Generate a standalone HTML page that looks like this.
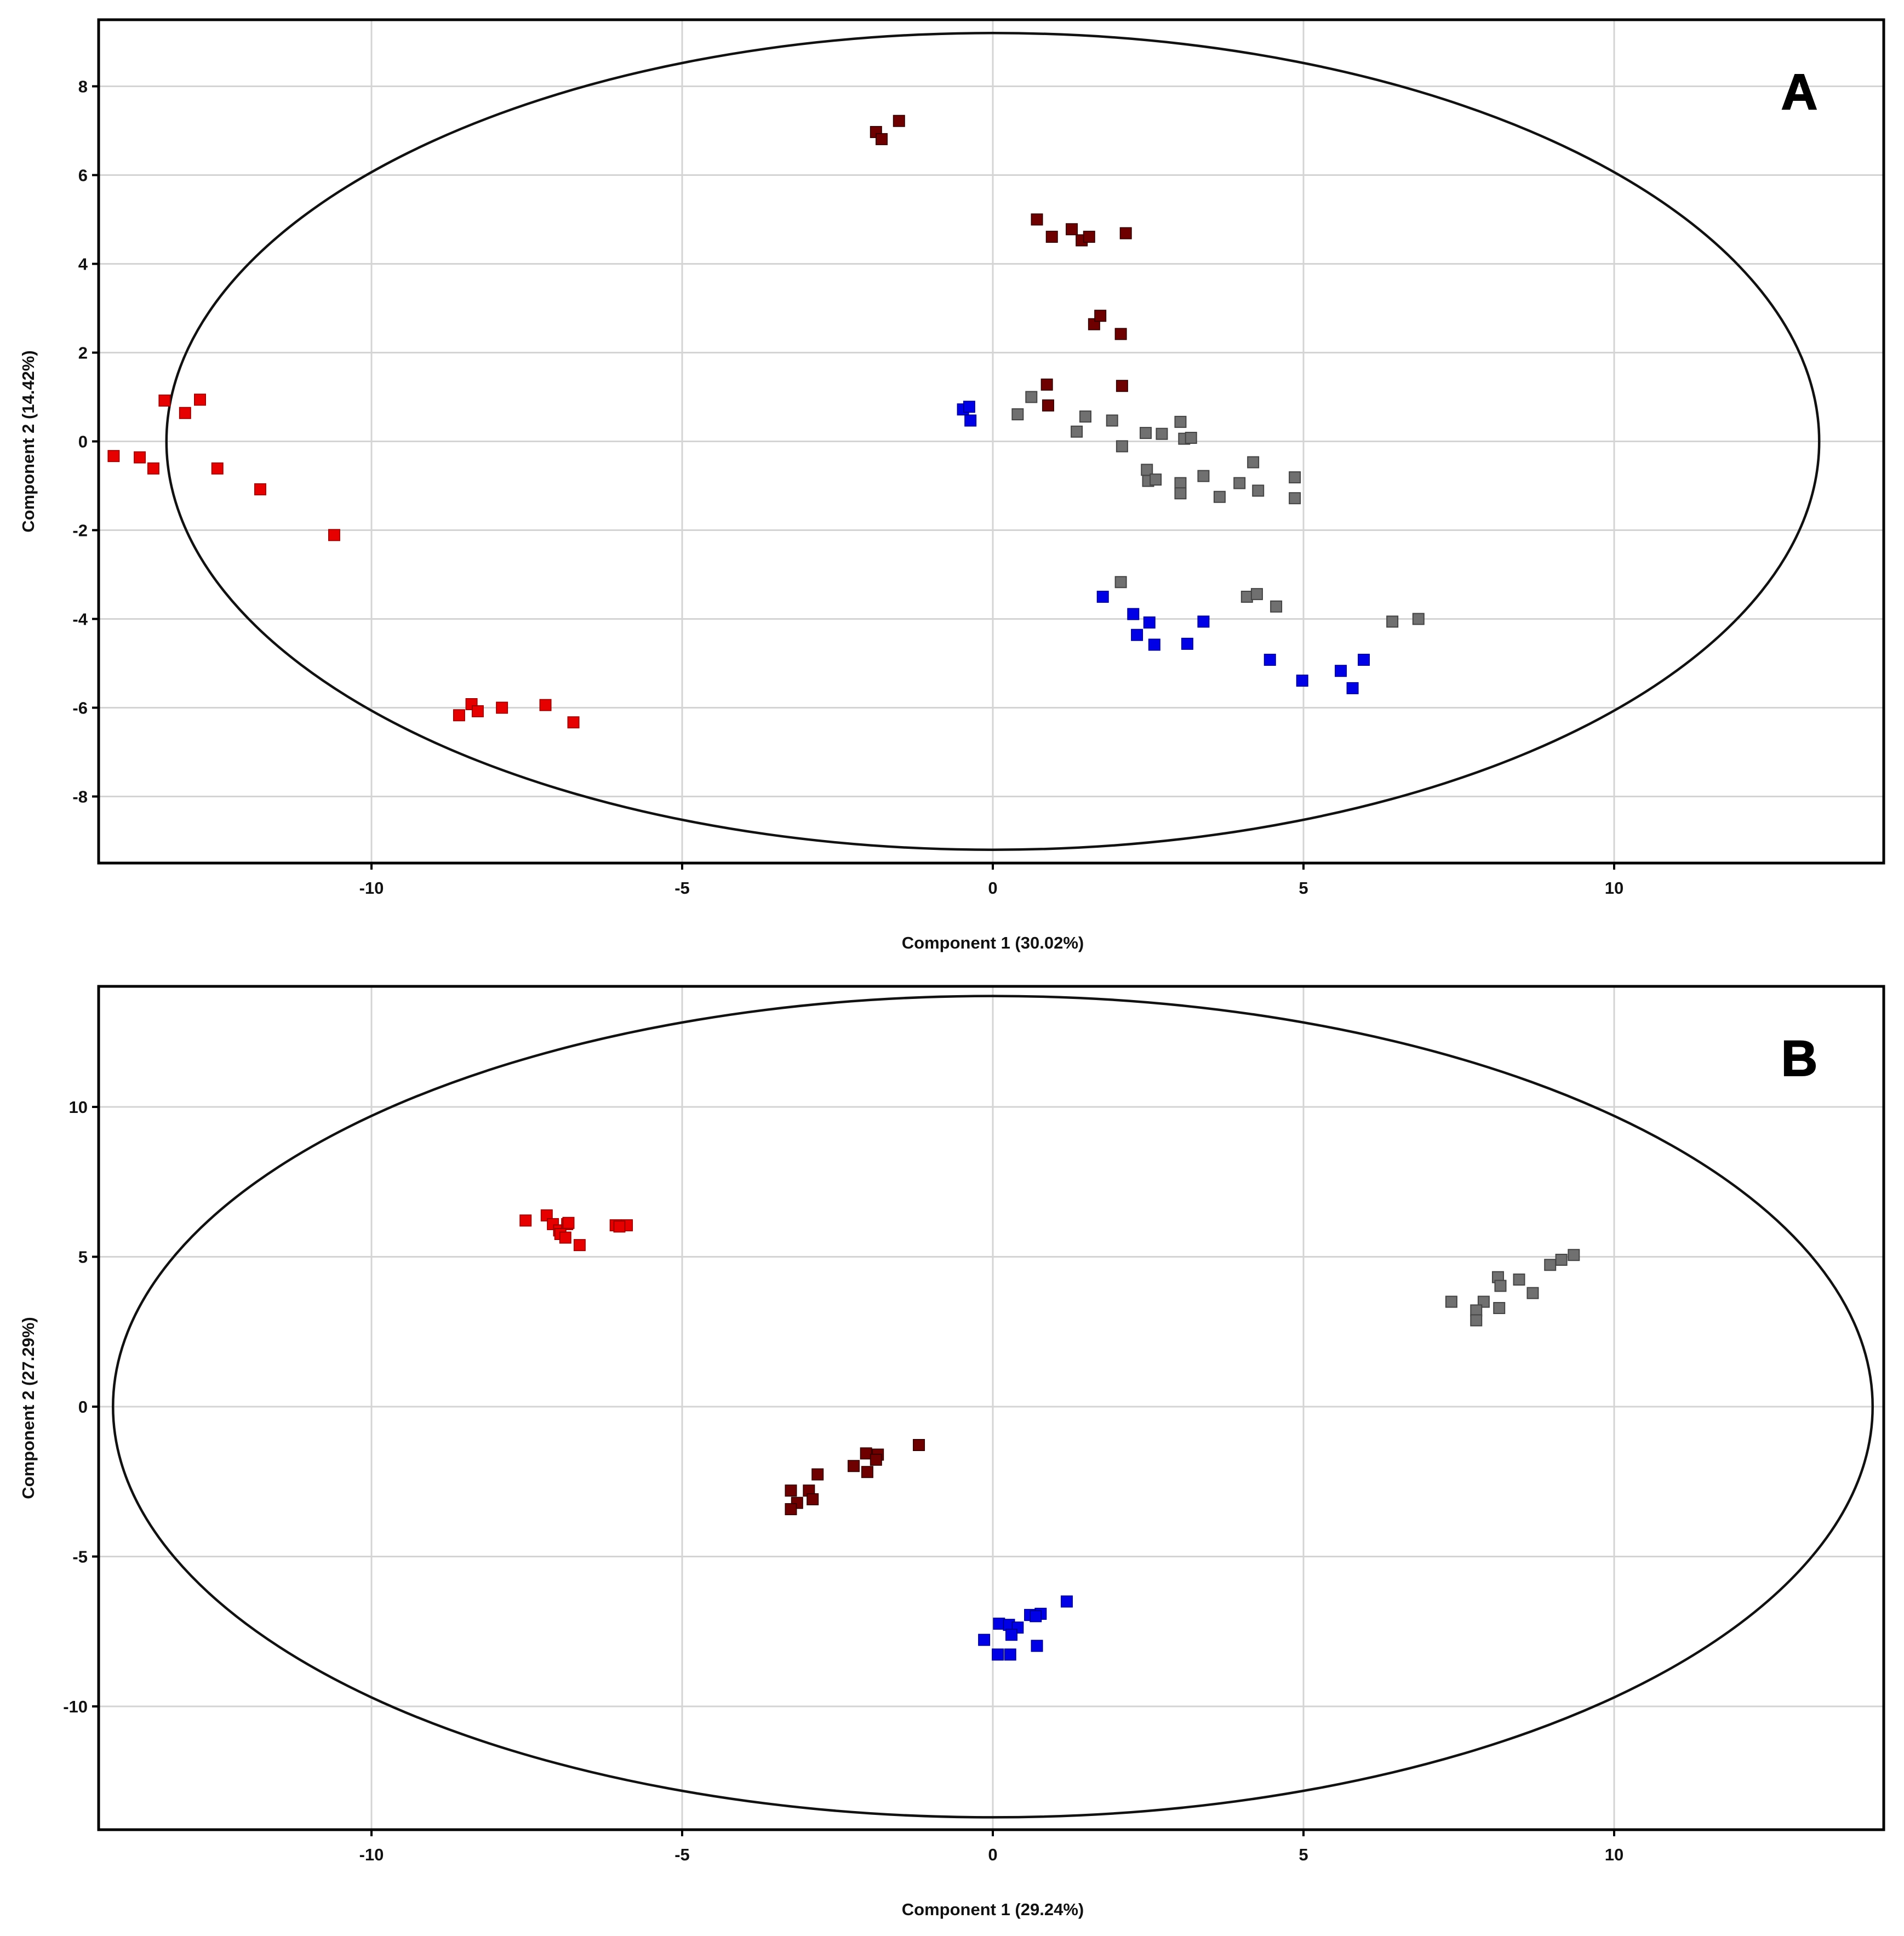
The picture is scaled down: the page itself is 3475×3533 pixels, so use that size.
<!DOCTYPE html>
<html><head><meta charset="utf-8"><style>
html,body{margin:0;padding:0;background:#fff;}
svg{display:block;font-family:"Liberation Sans",Arial,sans-serif;}
</style></head><body>
<svg id="chart" width="3475" height="3533" viewBox="0 0 3475 3533" xmlns="http://www.w3.org/2000/svg"></svg>
<script>
// Panel A data
const aRedX=[-14.15,-13.73,-13.51,-13.33,-13.0,-12.76,-12.48,-11.79,-10.6,-8.59,-8.39,-8.29,-7.9,-7.2,-6.75];
const aRedY=[-0.33,-0.36,-0.61,0.92,0.64,0.94,-0.61,-1.08,-2.11,-6.17,-5.92,-6.08,-6.0,-5.94,-6.33];
const aDarkX=[-1.88,-1.79,-1.51,0.71,0.95,1.27,1.43,1.55,2.14,1.63,1.73,2.06,0.87,0.89,2.08];
const aDarkY=[6.97,6.81,7.22,5.0,4.61,4.78,4.53,4.61,4.69,2.64,2.83,2.42,1.28,0.81,1.25];
const aBlueX=[-0.48,-0.38,-0.36,1.77,2.26,2.32,2.52,2.6,3.13,3.39,4.46,4.98,5.6,5.79,5.97];
const aBlueY=[0.72,0.78,0.47,-3.5,-3.89,-4.36,-4.08,-4.58,-4.56,-4.06,-4.92,-5.39,-5.17,-5.56,-4.92];
const aGreyX=[0.4,0.62,1.35,1.49,1.92,2.08,2.46,2.72,3.02,3.08,3.19,2.48,2.5,2.62,3.02,3.02,3.39,3.65,3.97,4.19,4.27,4.86,4.86,2.06,4.09,4.25,4.56,6.43,6.85];
const aGreyY=[0.61,1.0,0.22,0.56,0.47,-0.11,0.19,0.17,0.44,0.06,0.08,-0.64,-0.89,-0.86,-0.94,-1.17,-0.78,-1.25,-0.94,-0.47,-1.11,-0.81,-1.28,-3.17,-3.5,-3.44,-3.72,-4.06,-4.0];
// Panel B data
const bRedX=[-7.52,-7.18,-7.08,-6.98,-6.85,-6.83,-6.96,-6.88,-6.65,-6.07,-5.89,-6.01];
const bRedY=[6.21,6.38,6.09,5.88,6.09,6.13,5.76,5.64,5.39,6.05,6.05,6.01];
const bDarkX=[-1.19,-1.85,-2.04,-1.88,-2.24,-2.02,-2.82,-3.25,-2.96,-2.9,-3.15,-3.25];
const bDarkY=[-1.28,-1.6,-1.56,-1.77,-1.98,-2.18,-2.26,-2.8,-2.8,-3.09,-3.21,-3.42];
const bBlueX=[1.19,0.77,0.6,0.69,0.1,0.26,0.4,0.3,-0.14,0.71,0.08,0.28];
const bBlueY=[-6.5,-6.91,-6.95,-6.99,-7.24,-7.28,-7.37,-7.61,-7.78,-7.98,-8.27,-8.27];
const bGreyX=[9.35,9.15,8.97,8.47,8.13,8.17,8.69,7.38,7.9,8.15,7.78,7.78];
const bGreyY=[5.06,4.9,4.73,4.24,4.32,4.03,3.79,3.5,3.5,3.29,3.21,2.88];
const xTicks=[-10,-5,0,5,10];
const aYTicks=[-8,-6,-4,-2,0,2,4,6,8];
const bYTicks=[-10,-5,0,5,10];
const aEllipse=[13.3,9.2];
const bEllipse=[14.16,13.7];

const NS="http://www.w3.org/2000/svg";
const svg=document.getElementById('chart');
function mk(tag,attrs,parent){const e=document.createElementNS(NS,tag);for(const k in attrs)e.setAttribute(k,attrs[k]);(parent||svg).appendChild(e);return e;}
const X0=1812, XS=113.4, L=180, R=3438;
const sx=v=>X0+v*XS;

function panel(key,top,bottom,y0,ys,yTicks,ell,series,xTitle,yTitle,letter){
  const g=mk('g',{});
  
  
  const sy=v=>y0-v*ys;
  xTicks.forEach(t=>{const l=mk('line',{x1:sx(t),x2:sx(t),y1:top,y2:bottom,stroke:'#d4d4d4','stroke-width':3},g);
    });
  yTicks.forEach(t=>{const l=mk('line',{x1:L,x2:R,y1:sy(t),y2:sy(t),stroke:'#d4d4d4','stroke-width':3},g);
    });
  const el=mk('ellipse',{cx:sx(0),cy:sy(0),rx:ell[0]*XS,ry:ell[1]*ys,fill:'none',stroke:'#111','stroke-width':4.5},g);
  
  series.forEach(s=>{
    const sg=mk('g',{},g);
    
    
    s.xs.forEach((xv,i)=>{
      const r=mk('rect',{x:sx(xv)-10,y:sy(s.ys[i])-10,width:20,height:20,fill:s.fill,stroke:s.stroke,'stroke-width':2},sg);
      
      
    });
  });
  const b=mk('rect',{x:L,y:top,width:R-L,height:bottom-top,fill:'none',stroke:'#000','stroke-width':5},g);
  
  xTicks.forEach(t=>{
    mk('line',{x1:sx(t),x2:sx(t),y1:bottom,y2:bottom+12,stroke:'#000','stroke-width':4},g);
    const tx=mk('text',{x:sx(t),y:bottom+56,'text-anchor':'middle','font-size':31,'font-weight':'bold',fill:'#111'},g);
    tx.textContent=t;
    
  });
  yTicks.forEach(t=>{
    mk('line',{x1:L-12,x2:L,y1:sy(t),y2:sy(t),stroke:'#000','stroke-width':4},g);
    const tx=mk('text',{x:L-20,y:sy(t)+11,'text-anchor':'end','font-size':31,'font-weight':'bold',fill:'#111'},g);
    tx.textContent=t;
    
  });
  const xt=mk('text',{x:sx(0),y:bottom+156,'text-anchor':'middle','font-size':31,'font-weight':'bold',fill:'#111'},g);
  xt.textContent=xTitle;
  
  const yc=(top+bottom)/2;
  const yt=mk('text',{x:62,y:yc,'text-anchor':'middle','font-size':31,'font-weight':'bold',fill:'#111',transform:`rotate(-90 62 ${yc})`},g);
  yt.textContent=yTitle;
  
  const lt=mk('text',{x:3284,y:top+163,'text-anchor':'middle','font-size':92,'font-weight':'bold',fill:'#000',stroke:'#000','stroke-width':2},g);
  lt.textContent=letter;
  
}
const RED={fill:'#e60000',stroke:'#a00000'},DARK={fill:'#6e0000',stroke:'#3a0000'},BLUE={fill:'#0000e6',stroke:'#00009a'},GREY={fill:'#707070',stroke:'#444'};
panel('a',36,1575,805.5,81,aYTicks,aEllipse,[
  {name:'red',xs:aRedX,ys:aRedY,...RED},{name:'dark-red',xs:aDarkX,ys:aDarkY,...DARK},
  {name:'blue',xs:aBlueX,ys:aBlueY,...BLUE},{name:'grey',xs:aGreyX,ys:aGreyY,...GREY}],
  'Component 1 (30.02%)','Component 2 (14.42%)','A');
panel('b',1800,3339,2567,54.7,bYTicks,bEllipse,[
  {name:'red',xs:bRedX,ys:bRedY,...RED},{name:'dark-red',xs:bDarkX,ys:bDarkY,...DARK},
  {name:'blue',xs:bBlueX,ys:bBlueY,...BLUE},{name:'grey',xs:bGreyX,ys:bGreyY,...GREY}],
  'Component 1 (29.24%)','Component 2 (27.29%)','B');
</script>
</body></html>
